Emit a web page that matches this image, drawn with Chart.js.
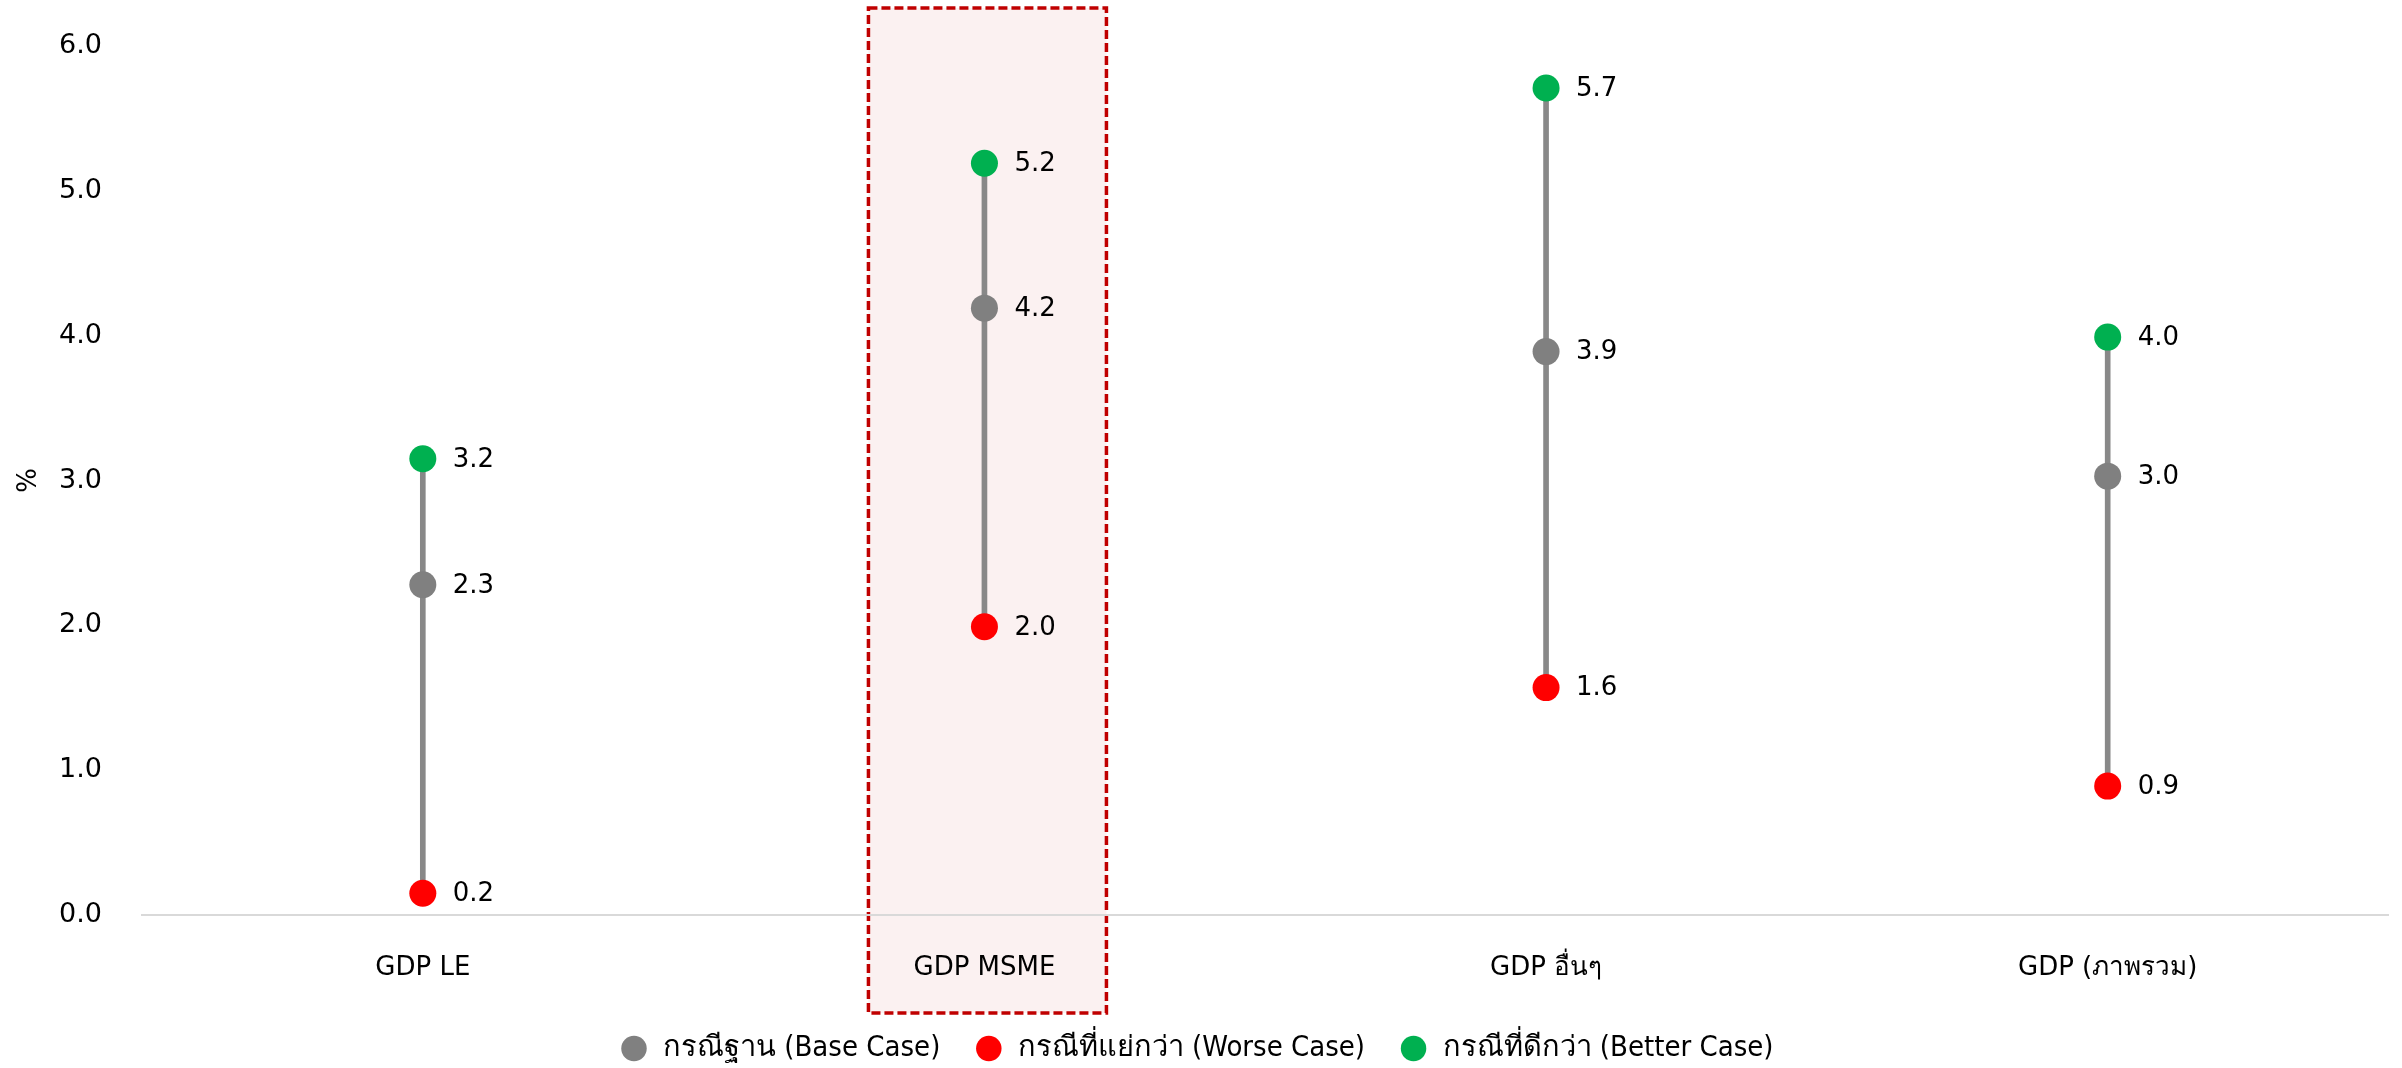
<!DOCTYPE html>
<html>
<head>
<meta charset="utf-8">
<script src="https://cdn.jsdelivr.net/npm/chart.js@4.4.1/dist/chart.umd.min.js"></script>
<style>
  html, body { margin: 0; padding: 0; background: #fff; }
  #wrap { width: 2402px; height: 1068px; }
</style>
</head>
<body>
<div id="wrap"><canvas id="myChart"></canvas></div>
<script>
// data
const categories = ['GDP LE', 'GDP MSME', 'GDP อื่นๆ', 'GDP (ภาพรวม)'];
const base_case = [2.28, 4.19, 3.89, 3.03];
const worse_case = [0.15, 1.99, 1.57, 0.89];
const better_case = [3.15, 5.19, 5.71, 3.99];
const y_ticks = [0, 1, 2, 3, 4, 5, 6];
const highlight_index = 1; // the MSME column is boxed

const series_names = ['กรณีฐาน (Base Case)', 'กรณีที่แย่กว่า (Worse Case)', 'กรณีที่ดีกว่า (Better Case)'];
const series_colors = ['#808080', '#ff0000', '#00b050'];

var ranges = [];
for (var i = 0; i < categories.length; i++) {
    ranges.push([worse_case[i], better_case[i]]);
}

const mainFont = 'DejaVu Sans, sans-serif';
const LEGEND_H = 68;

// fixed height for the legend strip
const legendHeight = {
    id: 'legendHeight',
    beforeInit(chart) {
        const fit = chart.legend.fit;
        chart.legend.fit = function () {
            fit.call(this);
            this.height = LEGEND_H;
        };
    }
};

// pink dashed box behind the highlighted category
const highlightBox = {
    id: 'highlightBox',
    beforeDraw(chart) {
        const ctx = chart.ctx;
        const cx = chart.scales.x.getPixelForValue(highlight_index) + 3;
        const half = 119;
        const top = chart.chartArea.top - 38;
        const bottom = chart.chartArea.bottom + 98;
        ctx.save();
        ctx.fillStyle = '#fbf1f1';
        ctx.fillRect(cx - half, top, half * 2, bottom - top);
        ctx.strokeStyle = '#c00000';
        ctx.lineWidth = 3.5;
        ctx.setLineDash([9, 4]);
        ctx.strokeRect(cx - half, top, half * 2, bottom - top);
        ctx.restore();
    }
};

// value labels to the right of each point
const valueLabels = {
    id: 'valueLabels',
    afterDatasetsDraw(chart) {
        const ctx = chart.ctx;
        ctx.save();
        ctx.font = '26px ' + mainFont;
        ctx.fillStyle = '#000';
        ctx.textAlign = 'left';
        ctx.textBaseline = 'middle';
        chart.data.datasets.forEach(function (ds, di) {
            if (ds.type !== 'line') return;
            const meta = chart.getDatasetMeta(di);
            meta.data.forEach(function (pt, k) {
                const v = Math.round(ds.data[k] * 10) / 10;
                ctx.fillText(v.toFixed(1), pt.x + 30, pt.y + 1);
            });
        });
        ctx.restore();
    }
};

function pointSet(label, values, color) {
    return {
        type: 'line',
        label: label,
        data: values,
        showLine: false,
        pointStyle: 'circle',
        pointRadius: 13.5,
        pointHoverRadius: 13.5,
        pointBorderWidth: 0,
        backgroundColor: color,
        borderColor: color,
        order: 1
    };
}

const data = {
    labels: categories,
    datasets: [
        pointSet(series_names[0], base_case, series_colors[0]),
        pointSet(series_names[1], worse_case, series_colors[1]),
        pointSet(series_names[2], better_case, series_colors[2]),
        {
            type: 'bar',
            label: 'range',
            data: ranges,
            backgroundColor: '#888888',
            barThickness: 5,
            order: 10
        }
    ]
};

const config = {
    data: data,
    options: {
        responsive: true,
        maintainAspectRatio: false,
        animation: false,
        layout: { padding: { top: 46, right: 9, left: 0, bottom: 0 } },
        plugins: {
            tooltip: { enabled: false },
            legend: {
                position: 'bottom',
                labels: {
                    filter: function (item) { return item.datasetIndex < 3; },
                    usePointStyle: true,
                    boxHeight: 18,
                    padding: 34,
                    color: '#000',
                    font: { family: 'DejaVu Sans Condensed, DejaVu Sans, sans-serif', size: 29 }
                }
            }
        },
        scales: {
            x: {
                afterFit: function (scale) { scale.height = 85; },
                grid: { display: false, drawTicks: false },
                border: { display: true, color: '#d9d9d9', width: 2 },
                ticks: { color: '#000', padding: 38, font: { family: mainFont, size: 26 } }
            },
            y: {
                min: 0,
                max: 6,
                afterBuildTicks: function (scale) {
                    scale.ticks = y_ticks.map(function (v) { return { value: v }; });
                },
                afterFit: function (scale) { scale.width = 142; },
                // invisible tick marks keep the labels away from the plot
                grid: {
                    display: true,
                    drawOnChartArea: false,
                    drawTicks: true,
                    tickLength: 37,
                    color: 'rgba(0,0,0,0)',
                    tickColor: 'rgba(0,0,0,0)'
                },
                border: { display: false },
                ticks: {
                    color: '#000',
                    padding: 3,
                    font: { family: mainFont, size: 27 },
                    callback: function (v) { return Number(v).toFixed(1); }
                },
                title: {
                    display: true,
                    text: '%',
                    color: '#000',
                    padding: { top: 14, bottom: 0 },
                    font: { family: mainFont, size: 26 }
                }
            }
        }
    },
    plugins: [legendHeight, highlightBox, valueLabels]
};

const gdp_chart = new Chart(document.getElementById('myChart'), config);
</script>
</body>
</html>
